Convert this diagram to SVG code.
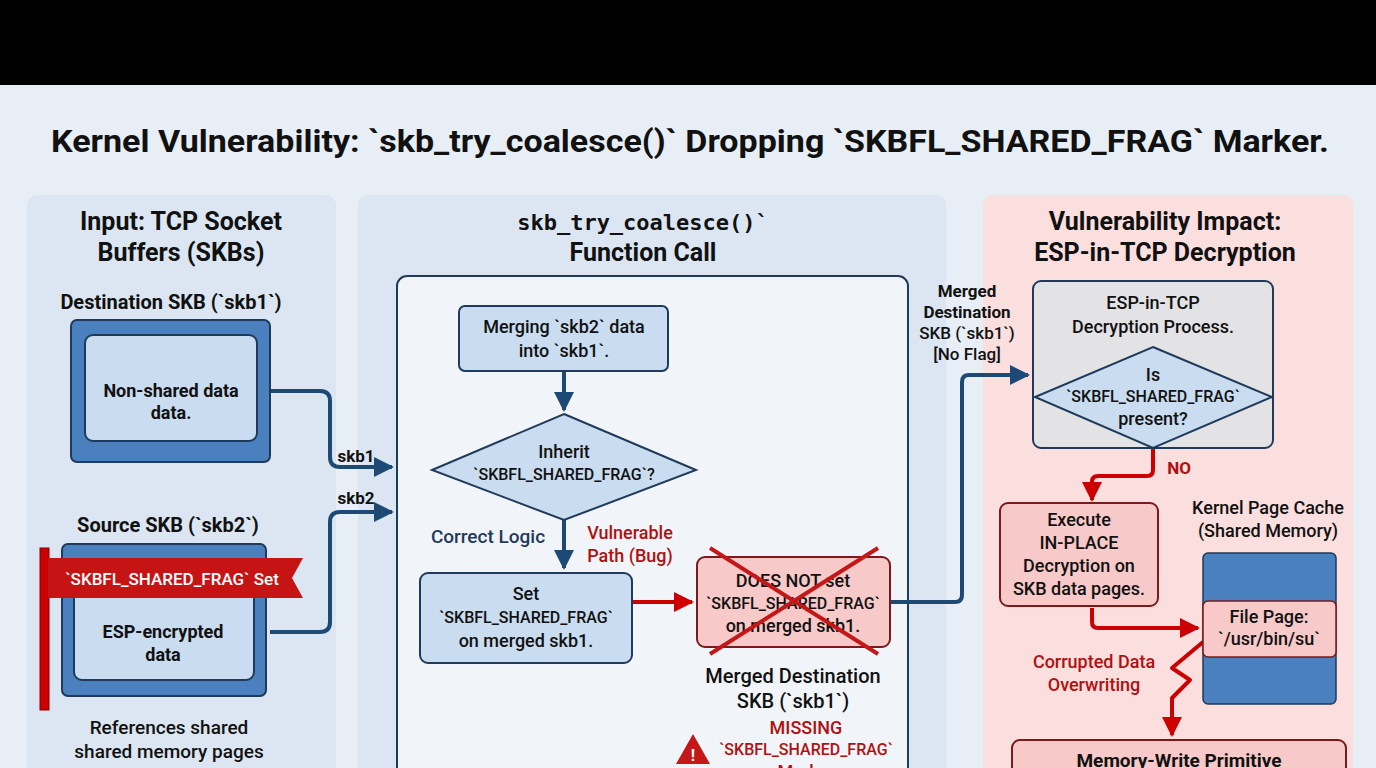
<svg xmlns="http://www.w3.org/2000/svg" width="1376" height="768" viewBox="0 0 1376 768">
<defs>
<style>
.t{font-family:"Roboto","Liberation Sans",sans-serif;fill:#111;text-anchor:middle;font-weight:500}
.b{font-weight:bold}
.m{font-family:"DejaVu Sans Mono","Liberation Mono",monospace}
.blue{fill:#c9dcf0;stroke:#1f3a5a;stroke-width:2}
.red{fill:#f8c9c9;stroke:#7a1a1a;stroke-width:2}
.cb{fill:none;stroke:#1d4a75;stroke-width:4;stroke-linejoin:round}
.cr{fill:none;stroke:#c00;stroke-width:4;stroke-linejoin:round}
.rt{fill:#b01010}
</style>
<marker id="ab" viewBox="0 0 10 10" refX="9" refY="5" markerWidth="5" markerHeight="5" orient="auto"><path d="M0,0L10,5L0,10z" fill="#1d4a75"/></marker>
<marker id="ar" viewBox="0 0 10 10" refX="9" refY="5" markerWidth="5" markerHeight="5" orient="auto"><path d="M0,0L10,5L0,10z" fill="#c00"/></marker>
</defs>
<rect width="1376" height="768" fill="#e8eef5"/>
<rect width="1376" height="85" fill="#000"/>
<text class="t b" x="690" y="152" font-size="32" textLength="1278" lengthAdjust="spacingAndGlyphs">Kernel Vulnerability: `skb_try_coalesce()` Dropping `SKBFL_SHARED_FRAG` Marker.</text>
<rect x="27" y="195" width="309" height="590" rx="10" fill="#dbe6f2"/>
<rect x="358" y="195" width="588" height="590" rx="10" fill="#dbe6f2"/>
<rect x="983" y="195" width="370" height="590" rx="10" fill="#fbdede"/>
<text class="t b" x="181" y="230" font-size="25">Input: TCP Socket</text>
<text class="t b" x="181" y="261" font-size="25">Buffers (SKBs)</text>
<text class="t b m" x="643" y="230" font-size="22">skb_try_coalesce()`</text>
<text class="t b" x="643" y="261" font-size="25">Function Call</text>
<text class="t b" x="1165" y="230" font-size="25">Vulnerability Impact:</text>
<text class="t b" x="1165" y="261" font-size="25">ESP-in-TCP Decryption</text>
<rect x="397" y="276" width="511" height="520" rx="10" fill="#f1f5fa" stroke="#1f3a5a" stroke-width="2"/>

<g id="conn">
<path class="cb" d="M270,391H320Q330,391 330,401V457Q330,467 340,467H392" marker-end="url(#ab)"/>
<path class="cb" d="M270,632H320Q330,632 330,622V522Q330,512 340,512H392" marker-end="url(#ab)"/>
<path class="cb" d="M564,371V410" marker-end="url(#ab)"/>
<path class="cb" d="M564,520V568" marker-end="url(#ab)"/>
<path class="cr" d="M632,602H692" marker-end="url(#ar)"/>
<path class="cb" d="M890,602H955Q962,602 962,595V382Q962,375 969,375H1028" marker-end="url(#ab)"/>
<path class="cr" d="M1153,448V470Q1153,476 1147,476H1098Q1092,476 1092,482V500" marker-end="url(#ar)"/>
<path class="cr" d="M1092,608V622Q1092,628 1098,628H1198" marker-end="url(#ar)"/>
<path class="cr" d="M1203,642L1172,668L1190,680L1172,698V735" marker-end="url(#ar)"/>
</g>
<text class="t b" x="356" y="462" font-size="17">skb1</text>
<text class="t b" x="356" y="504" font-size="17">skb2</text>
<text class="t" x="488" y="543" font-size="19" style="fill:#1f3a5a">Correct Logic</text>
<text class="t rt" x="630" y="539" font-size="18">Vulnerable</text>
<text class="t rt" x="630" y="562" font-size="18">Path (Bug)</text>
<text class="t b" x="967" y="297" font-size="17">Merged</text>
<text class="t b" x="967" y="318" font-size="17">Destination</text>
<text class="t" x="967" y="339" font-size="17">SKB (`skb1`)</text>
<text class="t" x="967" y="360" font-size="17">[No Flag]</text>
<text class="t b rt" x="1179" y="474" font-size="17">NO</text>
<text class="t rt" x="1094" y="668" font-size="18">Corrupted Data</text>
<text class="t rt" x="1094" y="691" font-size="18">Overwriting</text>

<g id="dst">
<text class="t b" x="171" y="309" font-size="20">Destination SKB (`skb1`)</text>
<rect x="71" y="320" width="199" height="142" rx="6" fill="#4a80bd" stroke="#1f3a5a" stroke-width="2"/>
<rect x="85" y="335" width="172" height="106" rx="8" class="blue"/>
<text class="t b" x="171" y="397" font-size="18">Non-shared data</text>
<text class="t b" x="171" y="419" font-size="18">data.</text>
</g>
<g id="src">
<text class="t b" x="168" y="532" font-size="20">Source SKB (`skb2`)</text>
<rect x="62" y="544" width="204" height="152" rx="6" fill="#4a80bd" stroke="#1f3a5a" stroke-width="2"/>
<rect x="74" y="570" width="180" height="110" rx="8" class="blue"/>
<text class="t b" x="163" y="638" font-size="18">ESP-encrypted</text>
<text class="t b" x="163" y="661" font-size="18">data</text>
<rect x="40" y="548" width="9" height="162" fill="#c00" stroke="#800" stroke-width="1"/>
<path d="M48,558H303L292,578L303,598H48z" fill="#c61414"/>
<text class="t" x="172" y="585" font-size="17" style="fill:#fff">`SKBFL_SHARED_FRAG` Set</text>
<text class="t" x="169" y="734" font-size="19">References shared</text>
<text class="t" x="169" y="758" font-size="19">shared memory pages</text>
</g>
<g id="merge">
<rect x="459" y="306" width="209" height="65" rx="6" class="blue"/>
<text class="t" x="564" y="333" font-size="18">Merging `skb2` data</text>
<text class="t" x="564" y="357" font-size="18">into `skb1`.</text>
</g>
<g id="inherit">
<path d="M564,414L696,470L564,520L432,470z" class="blue"/>
<text class="t" x="564" y="458" font-size="18">Inherit</text>
<text class="t" x="564" y="480" font-size="16">`SKBFL_SHARED_FRAG`?</text>
</g>
<g id="set">
<rect x="420" y="573" width="212" height="90" rx="8" class="blue"/>
<text class="t" x="526" y="600" font-size="18">Set</text>
<text class="t" x="526" y="623" font-size="16">`SKBFL_SHARED_FRAG`</text>
<text class="t" x="526" y="647" font-size="18">on merged skb1.</text>
</g>
<g id="notset">
<rect x="697" y="557" width="193" height="90" rx="8" class="red"/>
<text class="t" x="793" y="587" font-size="18">DOES NOT set</text>
<text class="t" x="793" y="609" font-size="16">`SKBFL_SHARED_FRAG`</text>
<text class="t" x="793" y="632" font-size="18">on merged skb1.</text>
<path d="M710,548L878,654M878,548L710,654" stroke="#c41818" stroke-width="4"/>
<text class="t" x="793" y="683" font-size="20">Merged Destination</text>
<text class="t" x="793" y="708" font-size="20">SKB (`skb1`)</text>
<text class="t rt" x="806" y="734" font-size="18">MISSING</text>
<text class="t rt" x="806" y="755" font-size="16">`SKBFL_SHARED_FRAG`</text>
<text class="t rt" x="806" y="778" font-size="18">Marker</text>
<path d="M693,734L710,764H676z" fill="#c41818"/>
<text class="t b" x="693" y="761" font-size="16" style="fill:#fff">!</text>
</g>
<g id="esp">
<rect x="1033" y="281" width="240" height="167" rx="8" fill="#e3e3e5" stroke="#1f3a5a" stroke-width="2"/>
<text class="t" x="1153" y="309" font-size="18">ESP-in-TCP</text>
<text class="t" x="1153" y="333" font-size="18">Decryption Process.</text>
<path d="M1153,347L1272,397L1153,448L1035,397z" class="blue"/>
<text class="t" x="1153" y="381" font-size="18">Is</text>
<text class="t" x="1153" y="402" font-size="16">`SKBFL_SHARED_FRAG`</text>
<text class="t" x="1153" y="425" font-size="18">present?</text>
</g>
<g id="exec">
<rect x="1000" y="503" width="158" height="103" rx="8" class="red"/>
<text class="t" x="1079" y="526" font-size="18">Execute</text>
<text class="t" x="1079" y="549" font-size="18">IN-PLACE</text>
<text class="t" x="1079" y="572" font-size="18">Decryption on</text>
<text class="t" x="1079" y="595" font-size="18">SKB data pages.</text>
</g>
<g id="cache">
<text class="t" x="1268" y="514" font-size="18">Kernel Page Cache</text>
<text class="t" x="1268" y="537" font-size="18">(Shared Memory)</text>
<rect x="1203" y="553" width="133" height="151" rx="5" fill="#4a80bd" stroke="#1f3a5a" stroke-width="1.5"/>
<rect x="1203" y="601" width="133" height="56" rx="5" fill="#f8c9c9" stroke="#7a1a1a" stroke-width="1.5"/>
<text class="t" x="1269" y="623" font-size="18">File Page:</text>
<text class="t" x="1269" y="645" font-size="18">`/usr/bin/su`</text>
</g>
<g id="mem">
<rect x="1012" y="740" width="334" height="50" rx="8" class="red"/>
<text class="t b" x="1179" y="767" font-size="19">Memory-Write Primitive</text>
</g>
</svg>
